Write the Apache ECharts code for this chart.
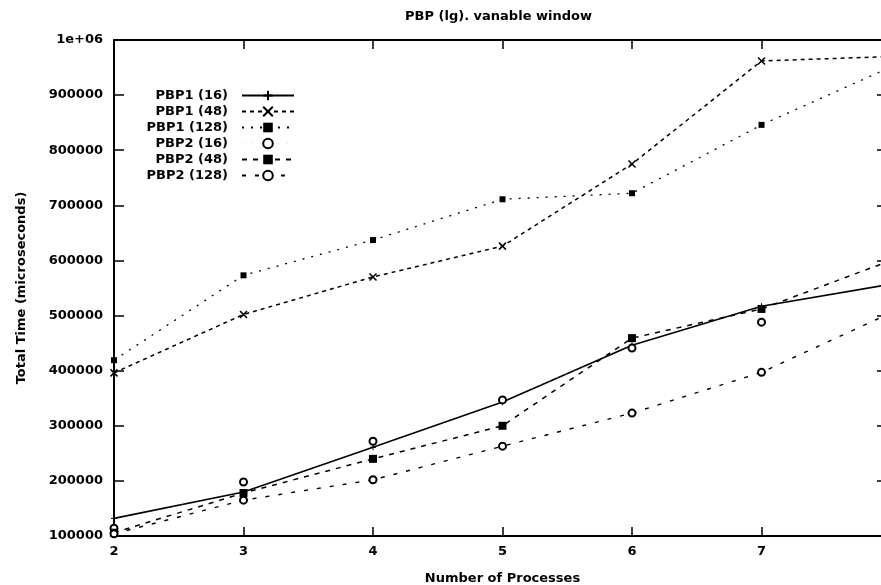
<!DOCTYPE html>
<html>
<head>
<meta charset="utf-8">
<script src="https://cdn.jsdelivr.net/npm/echarts@6/dist/echarts.min.js"></script>
<style>html,body{margin:0;padding:0;background:#fff}#c{width:881px;height:585px}</style>
</head>
<body>
<div id="c"></div>
<script>
const titleText = 'PBP (lg). vanable window';
const xName = 'Number of Processes';
const yName = 'Total Time (microseconds)';
const xValues = [2, 3, 4, 5, 6, 7, 8];
const yTickValues = [100000, 200000, 300000, 400000, 500000, 600000, 700000, 800000, 900000, 1000000];
const yTickLabels = ['100000', '200000', '300000', '400000', '500000', '600000', '700000', '800000', '900000', '1e+06'];
const seriesNames = ['PBP1 (16)', 'PBP1 (48)', 'PBP1 (128)', 'PBP2 (16)', 'PBP2 (48)', 'PBP2 (128)'];
const pbp1_16 = [132000, 180000, 261000, 343000, 446000, 517000, 557000];
const pbp1_48 = [396000, 502000, 570000, 626000, 775000, 962000, 970000];
const pbp1_128 = [419000, 573000, 637000, 711000, 722000, 846000, 951000];
const pbp2_16 = [114000, 198000, 272000, 347000, 441000, 488000, 540000];
const pbp2_48 = [106000, 178000, 240000, 300000, 459000, 512000, 600000];
const pbp2_128 = [104000, 165000, 202000, 263000, 323000, 397000, 505000];

const FONT = 'DejaVu Sans';
const pair = (ys) => xValues.map((x, i) => [x, ys[i]]);
const PLUS = 'path://M0,5L10,5M5,0L5,10';
const CROSS = 'path://M0,0L10,10M10,0L0,10';

function mk(name, ys, line, symbol, size, itemStyle) {
  return {
    name, type: 'line', data: pair(ys), symbol, symbolSize: size,
    lineStyle: line, itemStyle, showSymbol: true, clip: false,
    emphasis: { disabled: true }
  };
}

const chart = echarts.init(document.getElementById('c'), null, { renderer: 'canvas' });
chart.setOption({
  backgroundColor: '#fff',
  animation: false,
  title: {
    text: titleText, left: 400, top: 5,
    textStyle: { fontFamily: FONT, fontSize: 13, fontWeight: 'bold', color: '#000' }
  },
  legend: {
    orient: 'vertical', left: 135, top: 84, align: 'right',
    itemWidth: 52, itemHeight: 12, itemGap: 3,
    textStyle: { fontFamily: FONT, fontSize: 13, fontWeight: 'bold', color: '#000', width: 88, align: 'right', lineHeight: 12, padding: [0, 9, 0, 0] },
    data: seriesNames
  },
  grid: { left: 114, right: -10, top: 40, bottom: 49, containLabel: false, outerBoundsMode: 'none' },
  xAxis: [{
    type: 'value', min: 2, max: 8, interval: 1,
    name: xName, nameLocation: 'middle', nameGap: 36,
    nameTextStyle: { fontFamily: FONT, fontSize: 13, fontWeight: 'bold', color: '#000' },
    axisLine: { show: true, lineStyle: { color: '#000', width: 2 } },
    axisTick: { inside: true, length: 9, lineStyle: { color: '#000', width: 1.5 } },
    axisLabel: { fontFamily: FONT, fontSize: 13, fontWeight: 'bold', color: '#000', margin: 9 },
    splitLine: { show: false }
  }, {
    type: 'value', min: 2, max: 8, interval: 1, position: 'top',
    axisLine: { show: true, lineStyle: { color: '#000', width: 2 } },
    axisTick: { inside: true, length: 9, lineStyle: { color: '#000', width: 1.5 } },
    axisLabel: { show: false }, splitLine: { show: false }
  }],
  yAxis: [{
    type: 'value', min: 100000, max: 1000000, interval: 100000,
    name: yName, nameLocation: 'middle', nameGap: 86, nameRotate: 90,
    nameTextStyle: { fontFamily: FONT, fontSize: 13, fontWeight: 'bold', color: '#000' },
    axisLine: { show: true, lineStyle: { color: '#000', width: 2 } },
    axisTick: { inside: true, length: 10, lineStyle: { color: '#000', width: 1.5 } },
    axisLabel: {
      fontFamily: FONT, fontSize: 13, fontWeight: 'bold', color: '#000', margin: 11,
      formatter: (v) => { const i = yTickValues.indexOf(v); return i >= 0 ? yTickLabels[i] : ''; }
    },
    splitLine: { show: false }
  }, {
    type: 'value', min: 100000, max: 1000000, interval: 100000, position: 'right',
    axisLine: { show: true, lineStyle: { color: '#000', width: 2 } },
    axisTick: { inside: true, length: 14, lineStyle: { color: '#000', width: 1.5 } },
    axisLabel: { show: false }, splitLine: { show: false }
  }],
  series: [
    mk(seriesNames[0], pbp1_16, { color: '#000', width: 1.6, type: 'solid' }, PLUS, 6,
       { color: '#000', borderColor: '#000', borderWidth: 1 }),
    mk(seriesNames[1], pbp1_48, { color: '#000', width: 1.5, type: [4, 4] }, CROSS, 7,
       { color: '#000', borderColor: '#000', borderWidth: 1.5 }),
    mk(seriesNames[2], pbp1_128, { color: '#000', width: 1.3, type: [2, 7] }, 'rect', 6,
       { color: '#000' }),
    mk(seriesNames[3], pbp2_16, { color: '#e8e8e8', width: 0.6, type: [1, 8] }, 'emptyCircle', 7,
       { color: '#000', borderWidth: 1.6 }),
    mk(seriesNames[4], pbp2_48, { color: '#000', width: 1.5, type: [5, 6] }, 'rect', 8,
       { color: '#000' }),
    mk(seriesNames[5], pbp2_128, { color: '#000', width: 1.4, type: [4, 9] }, 'emptyCircle', 7,
       { color: '#000', borderWidth: 1.5 })
  ]
});
</script>
</body>
</html>
